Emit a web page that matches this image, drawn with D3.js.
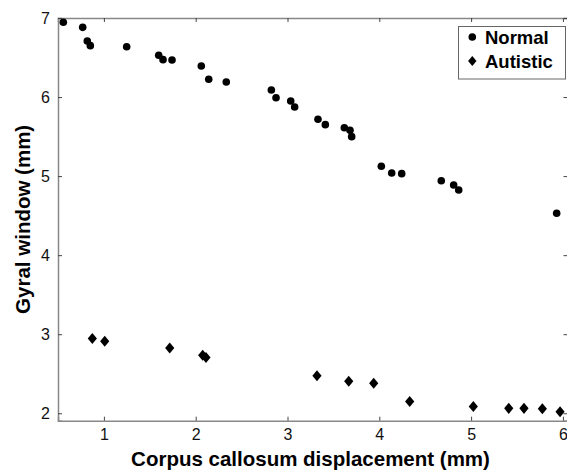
<!DOCTYPE html>
<html><head><meta charset="utf-8">
<script src="https://cdn.jsdelivr.net/npm/d3@7"></script>
<style>body{margin:0;background:#fff}svg{display:block}</style>
</head><body>
<script>
const normalX = [0.558,0.769,0.819,0.852,1.248,1.597,1.644,1.742,2.061,2.142,2.333,2.824,2.875,3.035,3.078,3.332,3.412,3.619,3.681,3.699,4.022,4.135,4.244,4.675,4.810,4.865,5.932];
const normalY = [6.946,6.882,6.709,6.650,6.637,6.528,6.473,6.469,6.393,6.225,6.191,6.089,5.992,5.950,5.874,5.719,5.651,5.612,5.579,5.499,5.124,5.040,5.031,4.942,4.888,4.825,4.530];
const autX = [0.874,1.009,1.717,2.076,2.112,3.321,3.667,3.939,4.331,5.024,5.410,5.576,5.776,5.969];
const autY = [2.945,2.910,2.826,2.735,2.705,2.475,2.405,2.380,2.150,2.085,2.062,2.062,2.058,2.020];
const xTicks = [1,2,3,4,5,6];
const yTicks = [2,3,4,5,6,7];
const seriesNames = ["Normal","Autistic"];

const W=567,H=471;
const L=58,T=18,B=420.7,R=567.5;
const svg=d3.select("body").append("svg").attr("width",W).attr("height",H);
const x=d3.scaleLinear().domain([0.5,6.05]).range([L,R]);
const y=d3.scaleLinear().domain([1.906,7]).range([B,T]);
const axisColor="#888";
const font="Liberation Sans, Arial, sans-serif";

function styleAxis(g){
  g.select(".domain").attr("stroke",axisColor).attr("stroke-width",1.5);
  g.selectAll(".tick line").attr("stroke","#444");
  g.selectAll(".tick text").attr("font-family",font).attr("font-size",16).attr("fill","#111");
}
svg.append("g").attr("transform",`translate(0,${B})`)
  .call(d3.axisBottom(x).tickValues(xTicks).tickSize(-4).tickPadding(8).tickFormat(d3.format("d")))
  .call(styleAxis);
svg.append("g").attr("transform",`translate(0,${T})`)
  .call(d3.axisTop(x).tickValues(xTicks).tickSize(-4).tickFormat(""))
  .call(styleAxis);
svg.append("g").attr("transform",`translate(${L},0)`)
  .call(d3.axisLeft(y).tickValues(yTicks).tickSize(-4).tickPadding(8).tickFormat(d3.format("d")))
  .call(styleAxis);
svg.append("g").attr("transform",`translate(${R},0)`)
  .call(d3.axisRight(y).tickValues(yTicks).tickSize(-4).tickFormat(""))
  .call(styleAxis);

const diamond = s => `M0,${-s*1.2}L${s},0L0,${s*1.2}L${-s},0Z`;

svg.append("g").selectAll("circle").data(normalX).join("circle")
  .attr("cx",(d)=>x(d)).attr("cy",(d,i)=>y(normalY[i])).attr("r",3.8).attr("fill","#000");
svg.append("g").selectAll("path").data(autX).join("path")
  .attr("transform",(d,i)=>`translate(${x(d)},${y(autY[i])})`).attr("d",diamond(4.6)).attr("fill","#000");

const lg=svg.append("g");
lg.append("rect").attr("x",458.5).attr("y",26.5).attr("width",107).attr("height",52.5)
  .attr("fill","#fff").attr("stroke","#666").attr("stroke-width",1);
lg.append("circle").attr("cx",472.3).attr("cy",37).attr("r",3.8).attr("fill","#000");
lg.append("path").attr("transform","translate(472.3,61)").attr("d",diamond(4.2)).attr("fill","#000");
lg.selectAll("text").data(seriesNames).join("text")
  .attr("x",485).attr("y",(d,i)=>44+i*24).text(d=>d)
  .attr("font-family",font).attr("font-weight","bold").attr("font-size",18.5);

svg.append("text").attr("x",(L+563)/2).attr("y",466).attr("text-anchor","middle")
  .attr("font-family",font).attr("font-weight","bold").attr("font-size",20.5)
  .text("Corpus callosum displacement (mm)");
svg.append("text").attr("transform",`translate(30,${(T+B)/2}) rotate(-90)`).attr("text-anchor","middle")
  .attr("font-family",font).attr("font-weight","bold").attr("font-size",20.5)
  .text("Gyral window (mm)");
</script>
</body></html>
